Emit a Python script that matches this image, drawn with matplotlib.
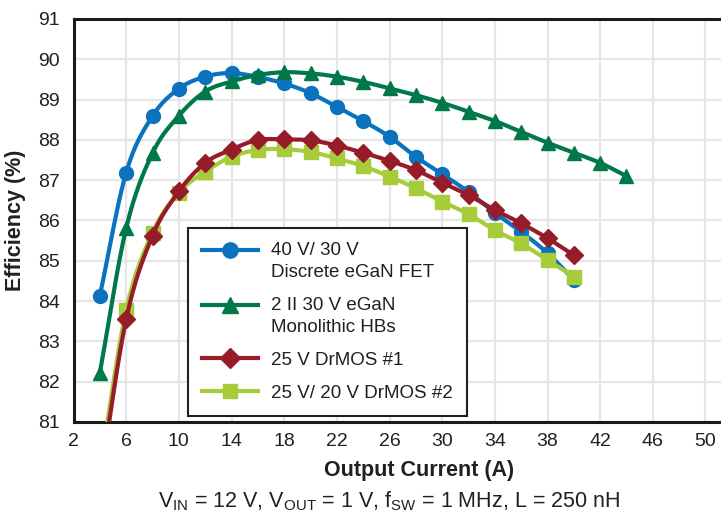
import numpy as np
import matplotlib
matplotlib.use("Agg")
import matplotlib.pyplot as plt
from matplotlib.legend_handler import HandlerLine2D

# ---------------- data ----------------
x_blue = [4, 6, 8, 10, 12, 14, 16, 18, 20, 22, 24, 26, 28, 30, 32, 34, 36, 38, 40]
y_blue = [84.13, 87.19, 88.59, 89.27, 89.57, 89.66, 89.56, 89.40, 89.16, 88.82, 88.47,
          88.08, 87.58, 87.15, 86.71, 86.19, 85.72, 85.19, 84.53]

x_green = [4, 6, 8, 10, 12, 14, 16, 18, 20, 22, 24, 26, 28, 30, 32, 34, 36, 38, 40, 42, 44]
y_green = [82.22, 85.81, 87.67, 88.60, 89.20, 89.45, 89.61, 89.68, 89.65, 89.57, 89.44,
           89.28, 89.11, 88.92, 88.70, 88.47, 88.20, 87.93, 87.68, 87.43, 87.10]

x_red = [4, 6, 8, 10, 12, 14, 16, 18, 20, 22, 24, 26, 28, 30, 32, 34, 36, 38, 40]
y_red = [79.5, 83.55, 85.62, 86.72, 87.43, 87.76, 88.00, 88.01, 87.99, 87.86, 87.68,
         87.48, 87.25, 86.94, 86.63, 86.26, 85.93, 85.56, 85.14]

x_lime = [4, 6, 8, 10, 12, 14, 16, 18, 20, 22, 24, 26, 28, 30, 32, 34, 36, 38, 40]
y_lime = [79.8, 83.78, 85.70, 86.69, 87.21, 87.58, 87.75, 87.77, 87.70, 87.54, 87.35,
          87.09, 86.80, 86.47, 86.16, 85.76, 85.43, 85.02, 84.61]

labels = ["40 V/ 30 V\nDiscrete eGaN FET",
          "2 II 30 V eGaN\nMonolithic HBs",
          "25 V DrMOS #1",
          "25 V/ 20 V DrMOS #2"]

x_ticks = [2, 6, 10, 14, 18, 22, 26, 30, 34, 38, 42, 46, 50]
y_ticks = [81, 82, 83, 84, 85, 86, 87, 88, 89, 90, 91]

caption = r"V$_{\mathrm{IN}}$ = 12 V, V$_{\mathrm{OUT}}$ = 1 V, f$_{\mathrm{SW}}$ = 1 MHz, L = 250 nH"

# ---------------- style ----------------
plt.rcParams['font.family'] = ['Liberation Sans', 'DejaVu Sans']
plt.rcParams['mathtext.fontset'] = 'custom'
plt.rcParams['mathtext.rm'] = 'Liberation Sans'
plt.rcParams['mathtext.it'] = 'Liberation Sans:italic'
plt.rcParams['mathtext.bf'] = 'Liberation Sans:bold'

TXT = '#231f20'
C_BLUE = '#0b72bd'
C_GREEN = '#00784a'
C_RED = '#961c2a'
C_LIME = '#a6cc3a'


def catmull_rom(x, y, n=16):
    x = np.asarray(x, float)
    y = np.asarray(y, float)
    px = np.concatenate([[2 * x[0] - x[1]], x, [2 * x[-1] - x[-2]]])
    py = np.concatenate([[2 * y[0] - y[1]], y, [2 * y[-1] - y[-2]]])
    xs, ys = [], []
    t = np.linspace(0, 1, n, endpoint=False)
    for i in range(1, len(px) - 2):
        for P, out in ((px, xs), (py, ys)):
            p0, p1, p2, p3 = P[i - 1], P[i], P[i + 1], P[i + 2]
            out.append(0.5 * ((2 * p1) + (-p0 + p2) * t +
                              (2 * p0 - 5 * p1 + 4 * p2 - p3) * t ** 2 +
                              (-p0 + 3 * p1 - 3 * p2 + p3) * t ** 3))
    xs.append([x[-1]])
    ys.append([y[-1]])
    return np.concatenate(xs), np.concatenate(ys)


fig = plt.figure(figsize=(7.21, 5.18), dpi=100)
ax = fig.add_axes([73.5 / 721, 1 - 422 / 518, 1 - 73.5 / 721, (422 - 19) / 518])

series = [
    (x_blue, y_blue, C_BLUE, 'o', 10),
    (x_green, y_green, C_GREEN, '^', 10),
    (x_lime, y_lime, C_LIME, 's', 9.5),
    (x_red, y_red, C_RED, 'D', 9),
]
handles = {}
for i, (xs, ys, c, m, ms) in enumerate(series):
    sx, sy = catmull_rom(xs, ys)
    ax.plot(sx, sy, color=c, lw=3, solid_capstyle='round', zorder=3 + i)
    ax.plot(xs, ys, linestyle='none', marker=m, ms=ms, color=c, mec=c, zorder=3 + i)
    h, = ax.plot([], [], color=c, lw=3, marker=m, ms=ms + 1, mec=c)
    handles[c] = h

ax.set_xlim(2, 2 + (721 - 73.5) / ((705.5 - 73.5) / 48))
ax.set_ylim(81, 91)
ax.set_xticks(x_ticks)
ax.set_yticks(y_ticks)
ax.grid(True, color='#e6e6e6', lw=1.6, zorder=0)
ax.set_axisbelow(True)
ax.tick_params(length=0, labelsize=14, colors=TXT, pad=8)
ax.tick_params(axis='y', pad=10)
for s in ['left', 'bottom', 'top']:
    ax.spines[s].set_linewidth(2.2)
    ax.spines[s].set_color('#1a1a1a')
ax.spines['right'].set_visible(False)

ax.set_xlabel("Output Current (A)", fontsize=15.5, fontweight='bold', color=TXT)
ax.xaxis.set_label_coords((419 - 73.5) / (721 - 73.5), -0.095)
ax.set_ylabel("Efficiency (%)", fontsize=15.5, fontweight='bold', color=TXT)
ax.yaxis.set_label_coords(-0.074, 0.5)


class ShiftHandler(HandlerLine2D):
    def __init__(self, dy, **kw):
        super().__init__(**kw)
        self.dy = dy

    def create_artists(self, legend, orig_handle, xdescent, ydescent, width, height, fontsize, trans):
        return super().create_artists(legend, orig_handle, xdescent, ydescent - self.dy,
                                      width, height, fontsize, trans)


fs = 13.5
LS = 1.38
dy = fs * LS - 2.5
leg_handles = [handles[C_BLUE], handles[C_GREEN], handles[C_RED], handles[C_LIME]]
leg = ax.legend(leg_handles, labels, loc='upper left',
                bbox_to_anchor=((188 - 73.5) / (721 - 73.5), (422 - 228) / 403),
                borderaxespad=0, fontsize=fs, frameon=True, fancybox=False,
                edgecolor='#231f20', framealpha=1, handlelength=3.0,
                handletextpad=0.7, labelspacing=0.85, borderpad=0.74,
                handler_map={handles[C_BLUE]: ShiftHandler(dy, numpoints=1),
                             handles[C_GREEN]: ShiftHandler(dy, numpoints=1),
                             handles[C_RED]: HandlerLine2D(numpoints=1),
                             handles[C_LIME]: HandlerLine2D(numpoints=1)})
leg.get_frame().set_linewidth(1.5)
leg.set_zorder(20)
for t in leg.get_texts():
    t.set_color(TXT)
    t.set_linespacing(LS)

fig.text(389 / 721, 1 - 501 / 518, caption, ha='center', va='center', fontsize=15.5, color=TXT)

fig.savefig("out.png", dpi=100)
